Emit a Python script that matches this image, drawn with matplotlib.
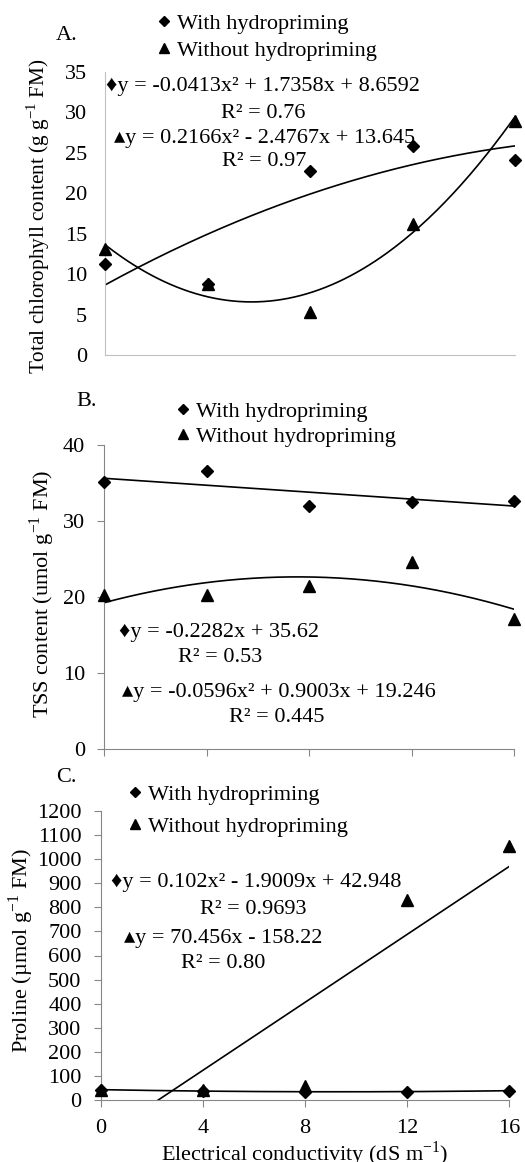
import numpy as np
import matplotlib
matplotlib.use('Agg')
import matplotlib.pyplot as plt
from matplotlib.lines import Line2D

plt.rcParams['font.family'] = ['Liberation Serif', 'DejaVu Sans']
plt.rcParams['mathtext.fontset'] = 'custom'
plt.rcParams['mathtext.rm'] = 'Liberation Serif'
plt.rcParams['font.size'] = 16

# salinity levels (dS m-1)
ec = [0, 4, 8, 12, 16]

# A. total chlorophyll
chl_with = [11.2, 8.8, 22.7, 25.8, 24.1]
chl_without = [13.1, 8.8, 5.3, 16.2, 29.0]
chl_with_fit = [-0.0413, 1.7358, 8.6592]
chl_without_fit = [0.2166, -2.4767, 13.645]

# B. TSS
tss_with = [35.1, 36.6, 32.0, 32.5, 32.6]
tss_without = [20.3, 20.2, 21.4, 24.6, 17.1]
tss_with_fit = [-0.2282, 35.62]
tss_without_fit = [-0.0596, 0.9003, 19.246]

# C. proline
pro_with = [43, 36, 34, 35, 39]
pro_without = [40, 42, 60, 830, 1055]
pro_with_fit = [0.102, -1.9009, 42.948]
pro_without_fit = [70.456, -158.22]

W, H = 525, 1162
fig = plt.figure(figsize=(W / 100, H / 100), dpi=100)


def px(x, y):
    return x / W, 1 - y / H


def add_panel(left, top, right, bottom):
    return fig.add_axes([left / W, 1 - bottom / H, (right - left) / W, (bottom - top) / H])


xs = np.linspace(0, 16, 200)


def draw(ax, y_with, y_without, fit_with, fit_without):
    ax.plot(ec, y_with, linestyle='none', marker='D', ms=6.5, color='black', clip_on=False, zorder=3)
    ax.plot(ec, y_without, linestyle='none', marker='^', ms=8, color='black', clip_on=False, zorder=3)
    ax.plot(xs, np.polyval(fit_with, xs), color='black', lw=1.2)
    ax.plot(xs, np.polyval(fit_without, xs), color='black', lw=1.2)
    for s in ['top', 'right']:
        ax.spines[s].set_visible(False)
    ax.set_xlim(0, 16)
    ax.set_xticks(ec)


def legend(ax, x, y, spacing):
    handles = [Line2D([], [], ls='none', marker='D', ms=5, color='black'),
               Line2D([], [], ls='none', marker='^', ms=6.5, color='black')]
    ax.legend(handles, ['With hydropriming', 'Without hydropriming'],
              loc='upper left', bbox_to_anchor=px(x, y), bbox_transform=fig.transFigure,
              frameon=False, handlelength=0.4, handletextpad=0.35, borderpad=0,
              borderaxespad=0, labelspacing=spacing, fontsize=16)


# ---- A ----
axA = add_panel(105, 72, 515, 355)
draw(axA, chl_with, chl_without, chl_with_fit, chl_without_fit)
axA.set_ylim(0, 35)
axA.set_yticks(range(0, 36, 5))
axA.tick_params(axis='y', length=0, pad=13)
axA.tick_params(axis='x', length=0, labelbottom=False)
for s in ['left', 'bottom']:
    axA.spines[s].set_color('#c0c0c0')
legend(axA, 160, 13, 0.32)
fig.text(*px(67, 36), 'A.', ha='center', va='center')
fig.text(*px(38, 216), r'Total chlorophyll content (g g$^{-1}$ FM)', rotation=90,
         ha='center', va='center', fontsize=15.3)
fig.text(*px(263, 87), '\u2666y = -0.0413x\u00b2 + 1.7358x + 8.6592', ha='center', va='center')
fig.text(*px(263, 113), 'R\u00b2 = 0.76', ha='center', va='center')
fig.text(*px(265, 138), '\u25b4y = 0.2166x\u00b2 - 2.4767x + 13.645', ha='center', va='center')
fig.text(*px(264, 162), 'R\u00b2 = 0.97', ha='center', va='center')

# ---- B ----
axB = add_panel(104, 445, 514, 749)
draw(axB, tss_with, tss_without, tss_with_fit, tss_without_fit)
axB.set_ylim(0, 40)
axB.set_yticks(range(0, 41, 10))
axB.tick_params(axis='y', length=5, pad=8.5, color='#868686')
axB.tick_params(axis='x', length=5, color='#868686', labelbottom=False)
for s in ['left', 'bottom']:
    axB.spines[s].set_color('#868686')
legend(axB, 179, 401, 0.22)
fig.text(*px(87, 402), 'B.', ha='center', va='center')
fig.text(*px(42, 594), r'TSS content (umol g$^{-1}$ FM)', rotation=90, ha='center', va='center')
fig.text(*px(219, 632), '\u2666y = -0.2282x + 35.62', ha='center', va='center')
fig.text(*px(220, 657), 'R\u00b2 = 0.53', ha='center', va='center')
fig.text(*px(279, 692), '\u25b4y = -0.0596x\u00b2 + 0.9003x + 19.246', ha='center', va='center')
fig.text(*px(277, 718), 'R\u00b2 = 0.445', ha='center', va='center')

# ---- C ----
axC = add_panel(101, 811, 509, 1100)
draw(axC, pro_with, pro_without, pro_with_fit, pro_without_fit)
axC.set_ylim(0, 1200)
axC.set_yticks(range(0, 1201, 100))
axC.tick_params(axis='y', length=5, pad=9, color='#868686')
axC.tick_params(axis='x', length=5, pad=9, color='#868686')
for s in ['left', 'bottom']:
    axC.spines[s].set_color('#868686')
legend(axC, 131, 784, 0.52)
fig.text(*px(66, 778), 'C.', ha='center', va='center')
fig.text(*px(21, 951), r'Proline (µmol g$^{-1}$ FM)', rotation=90, ha='center', va='center')
fig.text(*px(256, 883), '\u2666y = 0.102x\u00b2 - 1.9009x + 42.948', ha='center', va='center')
fig.text(*px(253, 910), 'R\u00b2 = 0.9693', ha='center', va='center')
fig.text(*px(223, 938), '\u25b4y = 70.456x - 158.22', ha='center', va='center')
fig.text(*px(223, 963), 'R\u00b2 = 0.80', ha='center', va='center')
axC.set_xlabel(r'Electrical conductivity (dS m$^{-1}$)', labelpad=1)

fig.savefig('out.png', dpi=100)
